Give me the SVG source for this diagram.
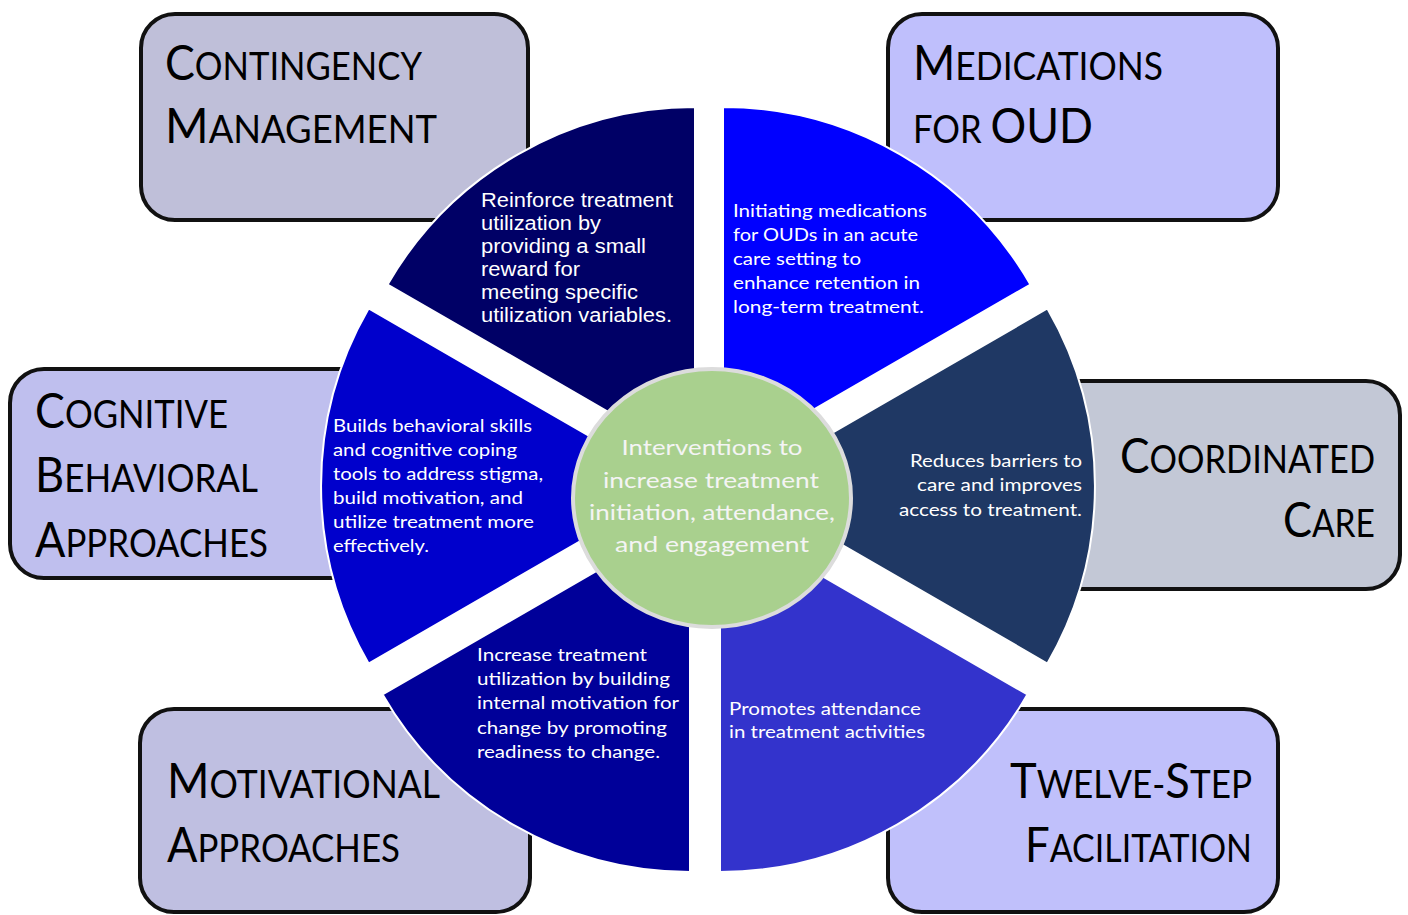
<svg xmlns="http://www.w3.org/2000/svg" width="1408" height="915" viewBox="0 0 1408 915">
<style>
.box{stroke:#111;stroke-width:4}
.title{font-family:Lato,"Liberation Sans",sans-serif;font-size:38px;fill:#000}
.big{font-size:49px}
.seg{stroke:#fff;stroke-width:2}
.st{font-family:Lato,"Open Sans",sans-serif;font-size:18px;fill:#fff}
.sa{font-family:"Liberation Sans",Arial,sans-serif;font-size:19.5px;fill:#fff}
.ct{font-family:Lato,"Open Sans",sans-serif;font-size:22px;fill:#f4f4f4;text-anchor:middle}
</style>
<rect width="1408" height="915" fill="#fff"/>
<g id="box-contingency">
<rect class="box" x="141" y="14" width="387" height="206" rx="34" fill="#BFBFD9"/>
<text class="title" x="165" y="80" textLength="257" lengthAdjust="spacingAndGlyphs"><tspan class="big">C</tspan>ONTINGENCY</text>
<text class="title" x="165" y="143" textLength="272" lengthAdjust="spacingAndGlyphs"><tspan class="big">M</tspan>ANAGEMENT</text>
</g>
<g id="box-medications">
<rect class="box" x="888" y="14" width="390" height="206" rx="34" fill="#BFBFFC"/>
<text class="title" x="913" y="80" textLength="250" lengthAdjust="spacingAndGlyphs"><tspan class="big">M</tspan>EDICATIONS</text>
<text class="title" x="913" y="143" textLength="180" lengthAdjust="spacingAndGlyphs">FOR <tspan class="big">OUD</tspan></text>
</g>
<g id="box-cognitive">
<rect class="box" x="10" y="369" width="390" height="209" rx="34" fill="#BFBFEE"/>
<text class="title" x="35" y="428" textLength="193" lengthAdjust="spacingAndGlyphs"><tspan class="big">C</tspan>OGNITIVE</text>
<text class="title" x="35" y="492" textLength="223" lengthAdjust="spacingAndGlyphs"><tspan class="big">B</tspan>EHAVIORAL</text>
<text class="title" x="35" y="557" textLength="233" lengthAdjust="spacingAndGlyphs"><tspan class="big">A</tspan>PPROACHES</text>
</g>
<g id="box-coordinated">
<rect class="box" x="1015" y="381" width="385" height="208" rx="34" fill="#C3C8D6"/>
<text class="title" x="1375" y="473" text-anchor="end" textLength="255" lengthAdjust="spacingAndGlyphs"><tspan class="big">C</tspan>OORDINATED</text>
<text class="title" x="1375" y="537" text-anchor="end" textLength="92" lengthAdjust="spacingAndGlyphs"><tspan class="big">C</tspan>ARE</text>
</g>
<g id="box-motivational">
<rect class="box" x="140" y="709" width="390" height="203" rx="34" fill="#BFBFE1"/>
<text class="title" x="167" y="798" textLength="273" lengthAdjust="spacingAndGlyphs"><tspan class="big">M</tspan>OTIVATIONAL</text>
<text class="title" x="167" y="862" textLength="233" lengthAdjust="spacingAndGlyphs"><tspan class="big">A</tspan>PPROACHES</text>
</g>
<g id="box-twelvestep">
<rect class="box" x="888" y="709" width="390" height="203" rx="34" fill="#C0C0FB"/>
<text class="title" x="1252" y="798" text-anchor="end" textLength="242" lengthAdjust="spacingAndGlyphs"><tspan class="big">T</tspan>WELVE-<tspan class="big">S</tspan>TEP</text>
<text class="title" x="1252" y="862" text-anchor="end" textLength="227" lengthAdjust="spacingAndGlyphs"><tspan class="big">F</tspan>ACILITATION</text>
</g>
<g id="connectors"></g>
<g id="seg-contingency">
<path class="seg" d="M695,462 L695,107 A355,355 0 0 0 387.6,284.5 Z" fill="#000066"/>
<text class="sa"><tspan x="481" y="207" textLength="192" lengthAdjust="spacingAndGlyphs">Reinforce treatment</tspan><tspan x="481" y="230" textLength="120" lengthAdjust="spacingAndGlyphs">utilization by</tspan><tspan x="481" y="253" textLength="165" lengthAdjust="spacingAndGlyphs">providing a small</tspan><tspan x="481" y="276" textLength="99" lengthAdjust="spacingAndGlyphs">reward for</tspan><tspan x="481" y="299" textLength="157" lengthAdjust="spacingAndGlyphs">meeting specific</tspan><tspan x="481" y="322" textLength="191" lengthAdjust="spacingAndGlyphs">utilization variables.</tspan></text>
</g>
<g id="seg-medications">
<path class="seg" d="M723,462 L1030.4,284.5 A355,355 0 0 0 723,107 Z" fill="#0000FF"/>
<text class="st"><tspan x="733" y="217" textLength="194" lengthAdjust="spacingAndGlyphs">Initiating medications</tspan><tspan x="733" y="241" textLength="185" lengthAdjust="spacingAndGlyphs">for OUDs in an acute</tspan><tspan x="733" y="265" textLength="128" lengthAdjust="spacingAndGlyphs">care setting to</tspan><tspan x="733" y="289" textLength="187" lengthAdjust="spacingAndGlyphs">enhance retention in</tspan><tspan x="733" y="313" textLength="191" lengthAdjust="spacingAndGlyphs">long-term treatment.</tspan></text>
</g>
<g id="seg-coordinated">
<path class="seg" d="M740,486 L1047.4,663.5 A355,355 0 0 0 1047.4,308.5 Z" fill="#1F3864"/>
<text class="st" text-anchor="end"><tspan x="1082" y="467" textLength="172" lengthAdjust="spacingAndGlyphs">Reduces barriers to</tspan><tspan x="1082" y="491" textLength="165" lengthAdjust="spacingAndGlyphs">care and improves</tspan><tspan x="1082" y="516" textLength="183" lengthAdjust="spacingAndGlyphs">access to treatment.</tspan></text>
</g>
<g id="seg-twelvestep">
<path class="seg" d="M720,517 L720,872 A355,355 0 0 0 1027.4,694.5 Z" fill="#3333CC"/>
<text class="st"><tspan x="729" y="715" textLength="192" lengthAdjust="spacingAndGlyphs">Promotes attendance</tspan><tspan x="729" y="738" textLength="196" lengthAdjust="spacingAndGlyphs">in treatment activities</tspan></text>
</g>
<g id="seg-motivational">
<path class="seg" d="M690,517 L382.6,694.5 A355,355 0 0 0 690,872 Z" fill="#000099"/>
<text class="st"><tspan x="477" y="661" textLength="170" lengthAdjust="spacingAndGlyphs">Increase treatment</tspan><tspan x="477" y="685" textLength="193" lengthAdjust="spacingAndGlyphs">utilization by building</tspan><tspan x="477" y="709" textLength="202" lengthAdjust="spacingAndGlyphs">internal motivation for</tspan><tspan x="477" y="734" textLength="190" lengthAdjust="spacingAndGlyphs">change by promoting</tspan><tspan x="477" y="758" textLength="183" lengthAdjust="spacingAndGlyphs">readiness to change.</tspan></text>
</g>
<g id="seg-cognitive">
<path class="seg" d="M676,486 L368.6,308.5 A355,355 0 0 0 368.6,663.5 Z" fill="#0000CC"/>
<text class="st"><tspan x="333" y="432" textLength="199" lengthAdjust="spacingAndGlyphs">Builds behavioral skills</tspan><tspan x="333" y="456" textLength="184" lengthAdjust="spacingAndGlyphs">and cognitive coping</tspan><tspan x="333" y="480" textLength="210" lengthAdjust="spacingAndGlyphs">tools to address stigma,</tspan><tspan x="333" y="504" textLength="190" lengthAdjust="spacingAndGlyphs">build motivation, and</tspan><tspan x="333" y="528" textLength="201" lengthAdjust="spacingAndGlyphs">utilize treatment more</tspan><tspan x="333" y="552" textLength="96" lengthAdjust="spacingAndGlyphs">effectively.</tspan></text>
</g>
<g id="center">
<ellipse cx="712" cy="498" rx="139" ry="129" fill="#A9D08E" stroke="#DCDCDC" stroke-width="4"/>
<text class="ct"><tspan x="712" y="455" textLength="181" lengthAdjust="spacingAndGlyphs">Interventions to</tspan><tspan x="711" y="488" textLength="216" lengthAdjust="spacingAndGlyphs">increase treatment</tspan><tspan x="712" y="520" textLength="246" lengthAdjust="spacingAndGlyphs">initiation, attendance,</tspan><tspan x="712" y="552" textLength="194" lengthAdjust="spacingAndGlyphs">and engagement</tspan></text>
</g>
</svg>
